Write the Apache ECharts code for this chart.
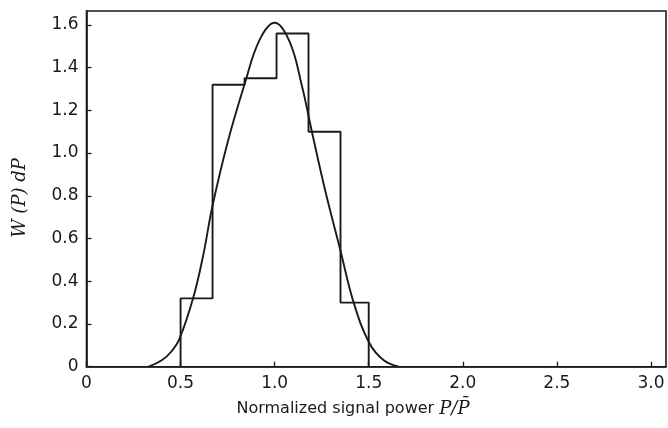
<!DOCTYPE html>
<html>
<head>
<meta charset="utf-8">
<script src="https://cdn.jsdelivr.net/npm/echarts@6/dist/echarts.min.js"></script>
<style>
  html, body { margin: 0; padding: 0; background: #fff; }
  #chart { width: 668px; height: 428px; }
</style>
</head>
<body>
<div id="chart"></div>
<script>
// Histogram of measured normalized power: bin edges and bin heights
const binEdges = [0.5, 0.67, 0.84, 1.01, 1.18, 1.35, 1.5];
const binHeights = [0.32, 1.32, 1.35, 1.56, 1.10, 0.30];

// Theoretical density curve (P/P̄, W(P)dP)
const curveP = [0.33, 0.40, 0.45, 0.494, 0.568, 0.62, 0.669, 0.75, 0.843, 0.92, 1.0, 1.08, 1.146, 1.198, 1.27, 1.348, 1.42, 1.504, 1.58, 1.66];
const curveW = [0.0, 0.03, 0.07, 0.13, 0.325, 0.52, 0.75, 1.05, 1.33, 1.53, 1.61, 1.52, 1.31, 1.10, 0.82, 0.55, 0.30, 0.11, 0.03, 0.0];

// Axis ticks
const xTicks = [0, 0.5, 1.0, 1.5, 2.0, 2.5, 3.0];
const xTickLabels = ['0', '0.5', '1.0', '1.5', '2.0', '2.5', '3.0'];
const yTicks = [0, 0.2, 0.4, 0.6, 0.8, 1.0, 1.2, 1.4, 1.6];
const yTickLabels = ['0', '0.2', '0.4', '0.6', '0.8', '1.0', '1.2', '1.4', '1.6'];

const ink = '#1a1a1a';

// Outline of the histogram as a stepped polyline
const histData = [[binEdges[0], 0]];
binHeights.forEach((h, i) => {
  histData.push([binEdges[i], h]);
  histData.push([binEdges[i + 1], h]);
});
histData.push([binEdges[binEdges.length - 1], 0]);

const curveData = curveP.map((p, i) => [p, curveW[i]]);

function labelFor(values, labels) {
  return v => {
    const i = values.findIndex(t => Math.abs(t - v) < 1e-6);
    return i >= 0 ? labels[i] : '';
  };
}

const chart = echarts.init(document.getElementById('chart'), null, { renderer: 'canvas' });
chart.setOption({
  backgroundColor: '#ffffff',
  animation: false,
  grid: {
    left: 86.5, right: 2, top: 11, bottom: 61.3,
    show: true, borderColor: ink, borderWidth: 1.6, backgroundColor: 'transparent'
  },
  xAxis: {
    type: 'value', min: 0, max: 3.08,
    axisLine: { show: true, lineStyle: { color: ink, width: 1.6 } },
    axisTick: { show: true, inside: true, length: 5, customValues: xTicks, lineStyle: { color: ink, width: 1.3 } },
    axisLabel: {
      customValues: xTicks, formatter: labelFor(xTicks, xTickLabels),
      color: ink, fontFamily: 'DejaVu Sans', fontSize: 17, margin: 8
    },
    splitLine: { show: false }
  },
  yAxis: {
    type: 'value', min: 0, max: 1.665,
    axisLine: { show: true, lineStyle: { color: ink, width: 1.6 } },
    axisTick: { show: true, inside: true, length: 5, customValues: yTicks, lineStyle: { color: ink, width: 1.3 } },
    axisLabel: {
      customValues: yTicks, formatter: labelFor(yTicks, yTickLabels),
      color: ink, fontFamily: 'DejaVu Sans', fontSize: 17, margin: 8
    },
    splitLine: { show: false }
  },
  series: [
    {
      type: 'line', data: histData, symbol: 'none',
      lineStyle: { color: ink, width: 1.9 }
    },
    {
      type: 'line', data: curveData, symbol: 'none', smooth: 0.4,
      lineStyle: { color: ink, width: 1.9 }
    }
  ],
  graphic: [
    {
      type: 'text', x: 353, y: 409,
      style: {
        x: 0, y: 0, align: 'center', verticalAlign: 'middle',
        rich: {
          a: { fontFamily: 'DejaVu Sans', fontSize: 16, fill: ink },
          b: { fontFamily: 'DejaVu Serif', fontStyle: 'italic', fontSize: 18, fill: ink }
        },
        text: '{a|Normalized signal power }{b|P/P\u0304}'
      }
    },
    {
      type: 'text', x: 20, y: 198, rotation: Math.PI / 2,
      style: {
        text: 'W (P) dP', x: 0, y: 0, align: 'center', verticalAlign: 'middle',
        fontFamily: 'DejaVu Serif', fontStyle: 'italic', fontSize: 18, fill: ink
      }
    }
  ]
});
</script>
</body>
</html>
